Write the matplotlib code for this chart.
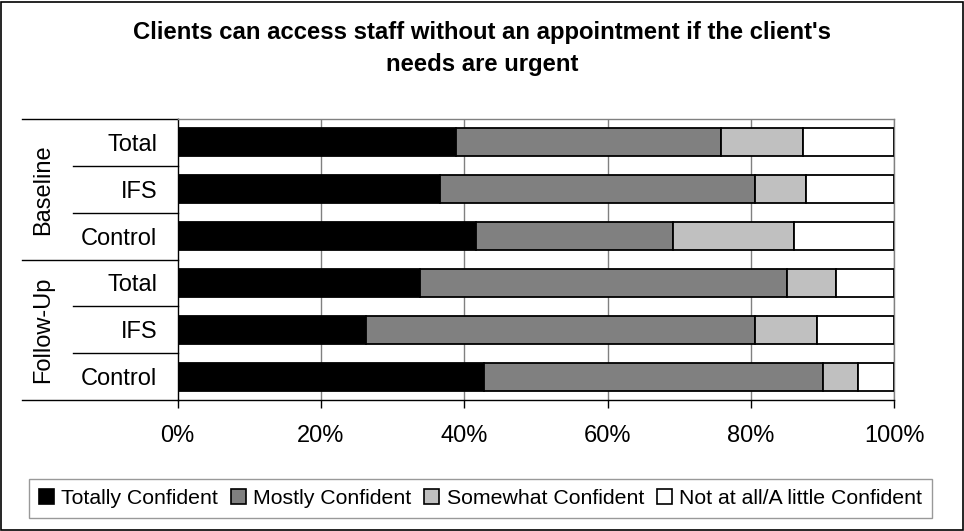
import matplotlib
matplotlib.use("Agg")
import matplotlib.pyplot as plt
import numpy as np
from matplotlib.patches import Rectangle, Patch
from matplotlib.transforms import blended_transform_factory
from matplotlib.lines import Line2D

plt.rcParams['font.family'] = ['Liberation Sans', 'DejaVu Sans']

title = "Clients can access staff without an appointment if the client's\nneeds are urgent"
groups = ["Baseline", "Follow-Up"]
categories = ["Total", "IFS", "Control", "Total", "IFS", "Control"]
series_names = ["Totally Confident", "Mostly Confident", "Somewhat Confident",
                "Not at all/A little Confident"]
totally = [38.9, 36.6, 41.6, 33.8, 26.3, 42.8]
mostly = [36.9, 43.9, 27.5, 51.2, 54.2, 47.2]
somewhat = [11.4, 7.2, 16.9, 6.9, 8.7, 5.0]
not_at_all = [12.8, 12.3, 14.0, 8.1, 10.8, 5.0]
xticks = [0, 20, 40, 60, 80, 100]
xtick_labels = ["0%", "20%", "40%", "60%", "80%", "100%"]
colors = ["#000000", "#808080", "#C0C0C0", "#FFFFFF"]

W, H = 964, 531
fig = plt.figure(figsize=(W / 100, H / 100), dpi=100)
L, R, T, B = 177.5, 894.3, 119, 400
ax = fig.add_axes([L / W, 1 - B / H, (R - L) / W, (B - T) / H])

y = np.arange(len(categories))
left = np.zeros(len(categories))
for vals, col, name in zip([totally, mostly, somewhat, not_at_all], colors, series_names):
    ax.barh(y, vals, left=left, height=0.6, color=col, edgecolor='black',
            linewidth=1.3, label=name, zorder=3)
    left = left + np.array(vals)

ax.set_xlim(0, 100)
ax.set_ylim(len(categories) - 0.5, -0.5)
ax.set_xticks(xticks)
ax.set_xticklabels(xtick_labels, fontsize=17)
ax.set_yticks(y)
ax.set_yticklabels(categories, fontsize=17)
ax.tick_params(axis='y', length=0, pad=14.5)
ax.tick_params(axis='x', length=5.8, width=1, direction='out', pad=12.5)
for xv in xticks[1:]:
    ax.axvline(xv, color='#808080', linewidth=1, zorder=1)
for s in ['top', 'right']:
    ax.spines[s].set_color('#808080')
    ax.spines[s].set_linewidth(1)
for s in ['left', 'bottom']:
    ax.spines[s].set_color('black')
    ax.spines[s].set_linewidth(1)

# label-table lines
tr = blended_transform_factory(fig.transFigure, ax.transData)
for yy in [-0.5, 2.5, 5.5]:
    ax.add_line(Line2D([22 / W, L / W], [yy, yy], transform=tr, color='black',
                       linewidth=1, clip_on=False))
for yy in [0.5, 1.5, 3.5, 4.5]:
    ax.add_line(Line2D([73 / W, L / W], [yy, yy], transform=tr, color='black',
                       linewidth=1, clip_on=False))
for gi, g in enumerate(groups):
    ax.text(43 / W, gi * 3 + 1, g, transform=tr, rotation=90, ha='center',
            va='center', fontsize=17)

fig.text(0.5, 1 - 48 / H, title, ha='center', va='center', fontsize=17.2,
         fontweight='bold', linespacing=1.5)

handles = [Patch(facecolor=c, edgecolor='black', linewidth=1.2) for c in colors]
leg = fig.legend(handles, series_names, loc='center', ncol=4,
                 bbox_to_anchor=(480.5 / W, 1 - 498.5 / H), fontsize=15.3,
                 frameon=True, fancybox=False, edgecolor='#808080',
                 handlelength=0.7, handleheight=0.7, handletextpad=0.35,
                 columnspacing=0.6, borderpad=0.45)
leg.get_frame().set_linewidth(1)

fig.patches.append(Rectangle((1 / W, 1 / H), (W - 2.5) / W, (H - 2.5) / H,
                             transform=fig.transFigure, fill=False,
                             edgecolor='black', linewidth=1.2))

fig.savefig("out.png", dpi=100)
